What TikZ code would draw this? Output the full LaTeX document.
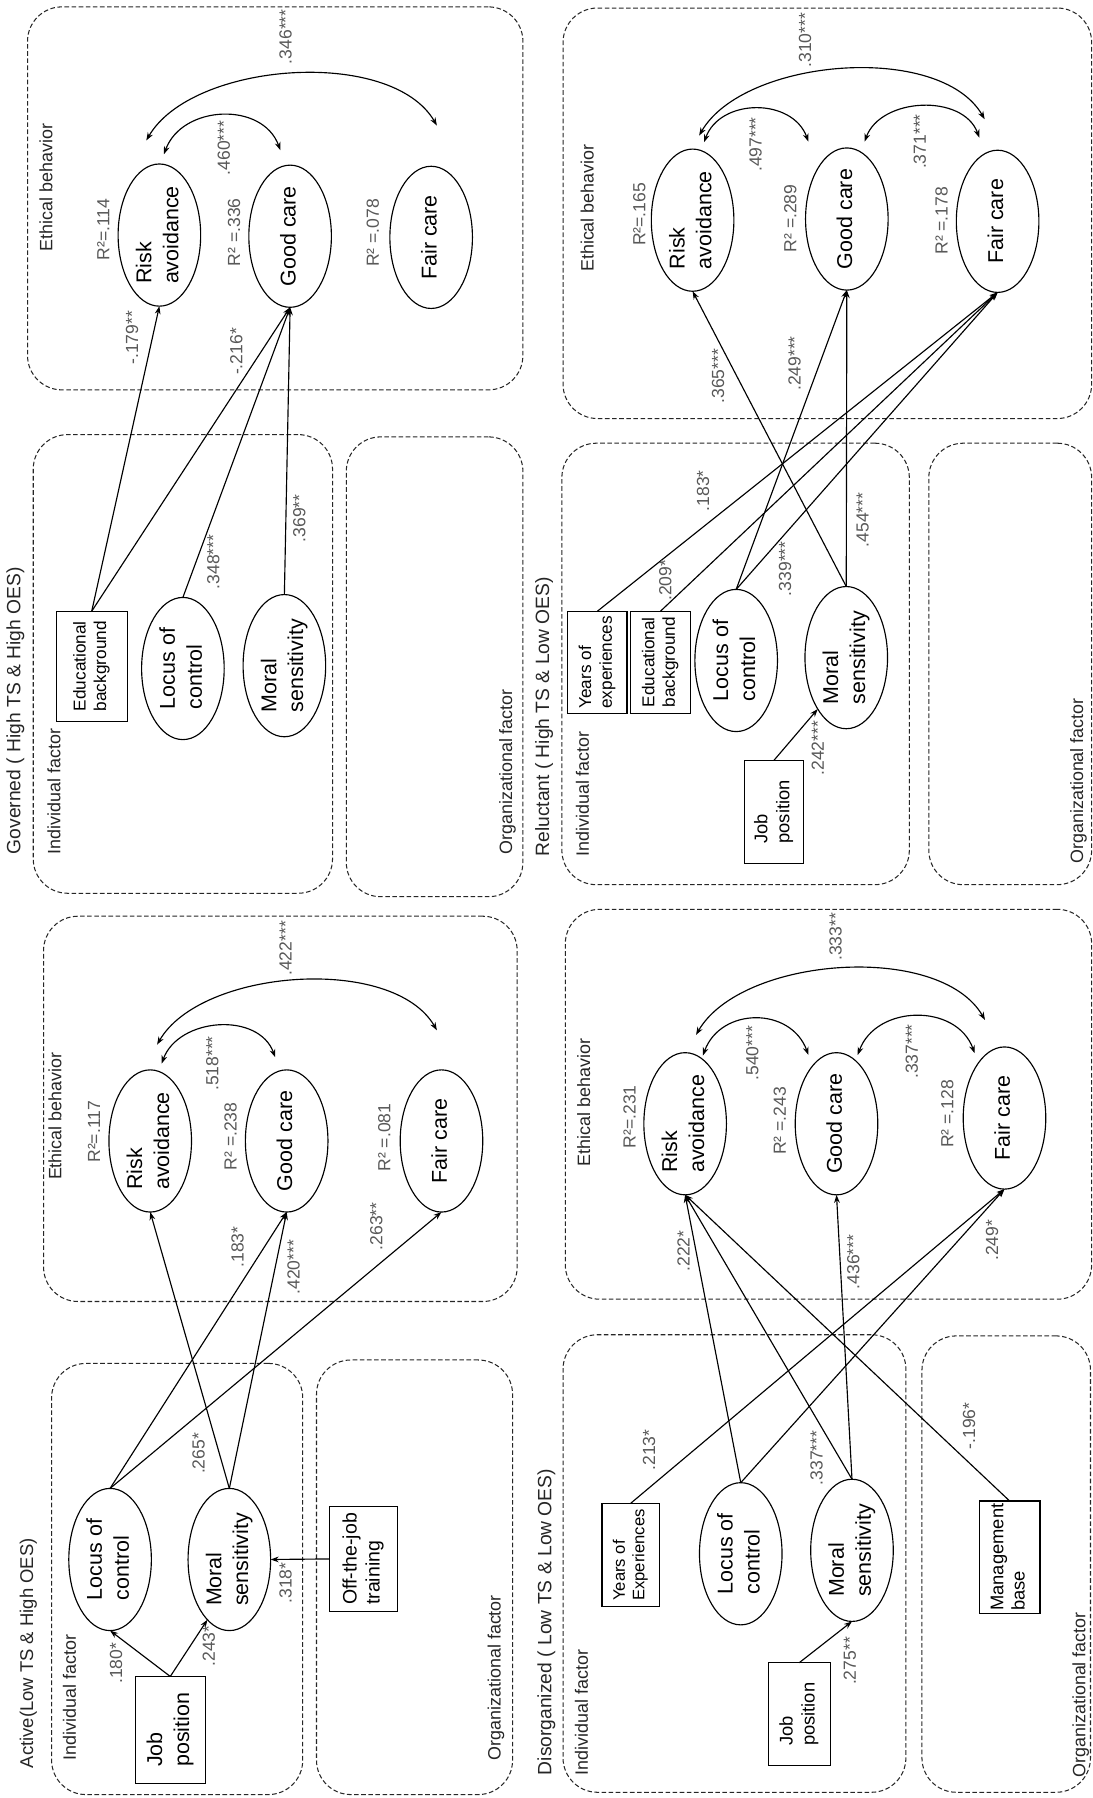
\documentclass[tikz,border=0pt]{standalone}
\usepackage{fontspec}
\setmainfont{Liberation Sans}
\usetikzlibrary{shapes.geometric,arrows.meta,calc}
\newcommand{\rtx}[1]{\rotatebox{90}{\begin{tabular}{@{}l@{}}#1\end{tabular}}}
\begin{document}
\begin{tikzpicture}[x=1pt,y=-1pt,
  every node/.style={inner sep=0pt, outer sep=0pt},
  lat/.style={draw, ellipse, line width=1pt, minimum width=72pt, minimum height=124pt, font=\fontsize{18.7}{23.5}\selectfont},
  obs/.style={draw, rectangle, line width=1pt},
  grp/.style={draw=black!85, rounded corners=30pt, dash pattern=on 4pt off 2.2pt, line width=0.9pt},
  hdr/.style={text=black!85, font=\fontsize{15.6}{18}\selectfont, anchor=south},
  ttl/.style={text=black!85, font=\fontsize{16.8}{19}\selectfont, anchor=south},
  coef/.style={text=black!65, font=\fontsize{15.3}{17}\selectfont},
  pth/.style={line width=1pt, -{Stealth[length=7pt,width=5pt]}},
  cov/.style={line width=1pt, {Stealth[length=7pt,width=5pt]}-{Stealth[length=7pt,width=5pt]}},
]
\fill[white] (0,0) rectangle (953,1568);
\useasboundingbox (0,0) rectangle (953,1568);

% ================= ACTIVE =================
\node[grp, minimum width=219, minimum height=376] (aI) at (154.5,1377) {};
\node[grp, minimum width=171, minimum height=379] (aO) at (361.5,1375.5) {};
\node[grp, minimum width=413, minimum height=336] (aE) at (244.5,967) {};
\node[ttl, font=\fontsize{16.1}{19}\selectfont] (aT) at (25,1542) {\rtx{Active(Low TS \& High OES)}};
\node[hdr] (aIh) at (62.5,1535) {\rtx{Individual factor}};
\node[hdr] (aOh) at (433,1535) {\rtx{Organizational factor}};
\node[hdr] (aEh) at (50,1029) {\rtx{Ethical behavior}};
\node[lat] (aLoC) at (96,1360) {\rtx{Locus of\\control}};
\node[lat] (aMS) at (200,1360) {\rtx{Moral\\sensitivity}};
\node[lat] (aRA) at (131,995) {\rtx{Risk\\avoidance}};
\node[lat] (aGC) at (250,995) {\rtx{Good care}};
\node[lat] (aFC) at (385,995) {\rtx{Fair care}};
\node[obs, minimum width=61, minimum height=93, font=\fontsize{18.7}{23.5}\selectfont] (aJP) at (148.5,1508.5) {\rtx{Job\\position}};
\node[obs, minimum width=60, minimum height=91, font=\fontsize{17}{20}\selectfont] (aOJT) at (317,1359.5) {\rtx{Off-the-job\\training}};
\draw[pth] (aJP.north) -- (aLoC.south);
\draw[pth] (aJP.north) -- (aMS.250);
\draw[pth] (aOJT.west) -- (aMS.east);
\draw[pth] (aMS.north) -- (aRA.south);
\draw[pth] (aLoC.north) -- (aGC.south);
\draw[pth] (aMS.north) -- (aGC.south);
\draw[pth] (aLoC.north) -- (aFC.south);
\draw[cov] ([shift={(10,-5.5)}]aRA.north) to[out=70,in=110,looseness=1.1] ([shift={(-10,-11)}]aGC.north);
\draw[cov] ([shift={(6,-22)}]aRA.north) to[out=60,in=120,looseness=0.8] ([shift={(-4,-34.5)}]aFC.north);
\node[coef] (a1) at (103,1450.5) {\rtx{.180*}};
\node[coef] (a2) at (184,1435.5) {\rtx{.243*}};
\node[coef] (a3) at (251,1380.5) {\rtx{.318*}};
\node[coef] (a4) at (175,1267.5) {\rtx{.265*}};
\node[coef] (a5) at (187,927.5) {\rtx{.518***}};
\node[coef] (a6) at (251,827) {\rtx{.422***}};
\node[coef] (a7) at (209,1087.5) {\rtx{.183*}};
\node[coef] (a8) at (258,1105) {\rtx{.420***}};
\node[coef] (a9) at (330,1069.5) {\rtx{.263**}};
\node[coef] (a10) at (84,987) {\rtx{R²=.117}};
\node[coef] (a11) at (203,991) {\rtx{R² =.238}};
\node[coef] (a12) at (337,992) {\rtx{R² =.081}};

% ================= DISORGANIZED =================
\node[grp, minimum width=299, minimum height=399] (dI) at (640.5,1363.5) {};
\node[grp, minimum width=147, minimum height=398] (dO) at (877.5,1364) {};
\node[grp, minimum width=459, minimum height=340] (dE) at (722.5,963) {};
\node[ttl] (dT) at (477,1548) {\rtx{Disorganized ( Low TS \& Low OES)}};
\node[hdr] (dIh) at (509,1548) {\rtx{Individual factor}};
\node[hdr] (dOh) at (943,1550) {\rtx{Organizational factor}};
\node[hdr] (dEh) at (511,1017) {\rtx{Ethical behavior}};
\node[lat] (dLoC) at (646,1355) {\rtx{Locus of\\control}};
\node[lat] (dMS) at (743,1352) {\rtx{Moral\\sensitivity}};
\node[lat] (dRA) at (597.5,980) {\rtx{Risk\\avoidance}};
\node[lat] (dGC) at (729.5,980) {\rtx{Good care}};
\node[lat] (dFC) at (876,975) {\rtx{Fair care}};
\node[obs, minimum width=50, minimum height=90, font=\fontsize{14.5}{17}\selectfont] (dYoE) at (550,1356) {\rtx{Years of\\Experiences}};
\node[obs, minimum width=54, minimum height=90, font=\fontsize{16}{19}\selectfont] (dJP) at (697,1495) {\rtx{Job\\position}};
\node[obs, minimum width=53, minimum height=98, font=\fontsize{16}{18.5}\selectfont] (dMB) at (880.5,1358) {\rtx{Management\\base}};
\draw[pth] (dJP.north) -- (dMS.south);
\draw[pth] (dYoE.north) -- (dFC.south);
\draw[pth] (dLoC.north) -- (dRA.south);
\draw[pth] (dLoC.north) -- (dFC.south);
\draw[pth] (dMS.north) -- (dRA.south);
\draw[pth] (dMS.north) -- (dGC.south);
\draw[pth] (dMB.north) -- (dRA.south);
\draw[cov] ([shift={(15.5,2.5)}]dRA.north) to[out=70,in=110,looseness=1.25] ([shift={(-24.5,2)}]dGC.north);
\draw[cov] ([shift={(18.5,2)}]dGC.north) to[out=70,in=110,looseness=1.17] ([shift={(-26,5.5)}]dFC.north);
\draw[cov] ([shift={(9.5,-15.5)}]dRA.north) to[out=60,in=120,looseness=0.8] ([shift={(-17,-23.5)}]dFC.north);
\node[coef] (d1) at (743,1448.5) {\rtx{.275**}};
\node[coef] (d2) at (568,1264.5) {\rtx{.213*}};
\node[coef] (d3) at (714,1271.5) {\rtx{.337***}};
\node[coef] (d4) at (847,1243.5) {\rtx{-.196*}};
\node[coef] (d5) at (658,918.5) {\rtx{.540***}};
\node[coef] (d6) at (797,917) {\rtx{.337***}};
\node[coef] (d7) at (730.5,817) {\rtx{.333**}};
\node[coef] (d8) at (598,1091) {\rtx{.222*}};
\node[coef] (d9) at (746,1100.5) {\rtx{.436***}};
\node[coef] (d10) at (867,1081.5) {\rtx{.249*}};
\node[coef] (d11) at (551,974) {\rtx{R²=.231}};
\node[coef] (d12) at (682,977.5) {\rtx{R² =.243}};
\node[coef] (d13) at (828,971.5) {\rtx{R² =.128}};

% ================= GOVERNED =================
\node[grp, minimum width=261, minimum height=400] (gI) at (159.5,579) {};
\node[grp, minimum width=154, minimum height=401] (gO) at (379,581.5) {};
\node[grp, minimum width=432, minimum height=334] (gE) at (240,173) {};
\node[ttl] (gT) at (14,745) {\rtx{Governed ( High TS \& High OES)}};
\node[hdr] (gIh) at (49,745) {\rtx{Individual factor}};
\node[hdr] (gOh) at (443,745) {\rtx{Organizational factor}};
\node[hdr] (gEh) at (42,219) {\rtx{Ethical behavior}};
\node[lat] (gLoC) at (159.5,583) {\rtx{Locus of\\control}};
\node[lat] (gMS) at (248,580.5) {\rtx{Moral\\sensitivity}};
\node[lat] (gRA) at (139,205) {\rtx{Risk\\avoidance}};
\node[lat] (gGC) at (253,206) {\rtx{Good care}};
\node[lat] (gFC) at (376,207) {\rtx{Fair care}};
\node[obs, minimum width=62, minimum height=96, font=\fontsize{15}{18}\selectfont] (gEB) at (80,581) {\rtx{Educational\\background}};
\draw[pth] (gEB.north) -- (gRA.south);
\draw[pth] (gEB.north) -- (gGC.south);
\draw[pth] (gLoC.north) -- (gGC.south);
\draw[pth] (gMS.north) -- (gGC.south);
\draw[cov] ([shift={(4,-8.5)}]gRA.north) to[out=70,in=110,looseness=1.15] ([shift={(-8.5,-13)}]gGC.north);
\draw[cov] ([shift={(-11.4,-20.5)}]gRA.north) to[out=60,in=120,looseness=0.8] ([shift={(5,-35.5)}]gFC.north);
\node[coef] (g1) at (188,490) {\rtx{.348***}};
\node[coef] (g2) at (263,452) {\rtx{.369**}};
\node[coef] (g3) at (197,129) {\rtx{.460***}};
\node[coef] (g4) at (251,32) {\rtx{.346***}};
\node[coef] (g5) at (117,294.5) {\rtx{-.179**}};
\node[coef] (g6) at (208,306.5) {\rtx{-.216*}};
\node[coef] (g7) at (92,200) {\rtx{R²=.114}};
\node[coef] (g8) at (206,202.5) {\rtx{R² =.336}};
\node[coef] (g9) at (327,203) {\rtx{R² =.078}};

% ================= RELUCTANT =================
\node[grp, minimum width=303, minimum height=385] (rI) at (641.5,579) {};
\node[grp, minimum width=142, minimum height=385] (rO) at (881,579) {};
\node[grp, minimum width=461, minimum height=358] (rE) at (721.5,186) {};
\node[ttl] (rT) at (475,747) {\rtx{Reluctant ( High TS \& Low OES)}};
\node[hdr] (rIh) at (510,747) {\rtx{Individual factor}};
\node[hdr] (rOh) at (941,753) {\rtx{Organizational factor}};
\node[hdr] (rEh) at (514,237) {\rtx{Ethical behavior}};
\node[lat] (rLoC) at (642,576) {\rtx{Locus of\\control}};
\node[lat] (rMS) at (738,573.5) {\rtx{Moral\\sensitivity}};
\node[lat] (rRA) at (604,192) {\rtx{Risk\\avoidance}};
\node[lat] (rGC) at (738.5,191) {\rtx{Good care}};
\node[lat] (rFC) at (870,193) {\rtx{Fair care}};
\node[obs, minimum width=51.5, minimum height=89, font=\fontsize{15}{18}\selectfont] (rYoE) at (521,577.5) {\rtx{Years of\\experiences}};
\node[obs, minimum width=52, minimum height=89, font=\fontsize{15}{18}\selectfont] (rEB) at (576,577.5) {\rtx{Educational\\background}};
\node[obs, minimum width=52, minimum height=90, font=\fontsize{16}{19}\selectfont] (rJP) at (675,708) {\rtx{Job\\position}};
\draw[pth] (rJP.north) -- (rMS.241);
\draw[pth] (rYoE.north) -- (rFC.south);
\draw[pth] (rEB.north) -- (rFC.south);
\draw[pth] (rLoC.north) -- (rFC.south);
\draw[pth] (rLoC.north) -- (rGC.south);
\draw[pth] (rMS.north) -- (rRA.south);
\draw[pth] (rMS.north) -- (rGC.south);
\draw[cov] ([shift={(10,-6)}]rRA.north) to[out=70,in=110,looseness=1.15] ([shift={(-33.5,-5.5)}]rGC.north);
\draw[cov] ([shift={(15.5,-5.5)}]rGC.north) to[out=70,in=110,looseness=1.05] ([shift={(-16,-11)}]rFC.north);
\draw[cov] ([shift={(5.7,-11.8)}]rRA.north) to[out=60,in=120,looseness=0.8] ([shift={(-11.3,-27)}]rFC.north);
\node[coef] (r1) at (715,652.5) {\rtx{.242***}};
\node[coef] (r2) at (615,428) {\rtx{.183*}};
\node[coef] (r3) at (582,506) {\rtx{.209*}};
\node[coef] (r4) at (686.5,496) {\rtx{.339***}};
\node[coef] (r5) at (754,453.5) {\rtx{.454***}};
\node[coef] (r6) at (660.7,126) {\rtx{.497***}};
\node[coef] (r7) at (804,123.5) {\rtx{.371***}};
\node[coef] (r8) at (704,35) {\rtx{.310***}};
\node[coef] (r9) at (628,328) {\rtx{.365***}};
\node[coef] (r10) at (694.7,317) {\rtx{.249***}};
\node[coef] (r11) at (559.5,187) {\rtx{R²=.165}};
\node[coef] (r12) at (691,190.5) {\rtx{R² =.289}};
\node[coef] (r13) at (823,192.5) {\rtx{R² =.178}};
\end{tikzpicture}
\end{document}
